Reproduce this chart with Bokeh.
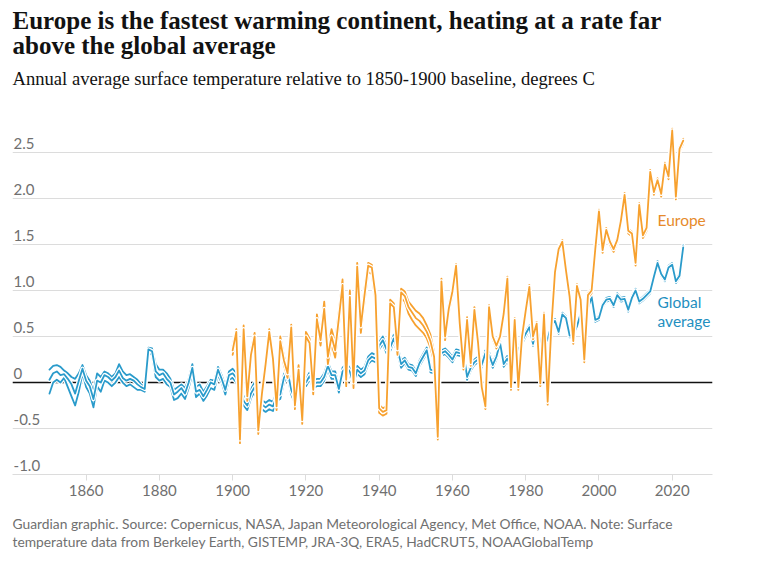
from bokeh.plotting import figure
from bokeh.models import FixedTicker, Label, Title
from bokeh.core.properties import value
from bokeh.embed import file_html
from bokeh.resources import INLINE

# ---------------- data ----------------
years_global = list(range(1850, 2024))
years_europe = list(range(1900, 2024))

global_a = [
    0.03, 0.10, 0.12, 0.08, 0.09, 0.04, -0.02, -0.12, 0.02, 0.15,
    0.02, -0.04, -0.18, 0.02, 0.00, 0.08, 0.06, 0.02, 0.06, 0.13,
    0.05, 0.02, 0.04, 0.02, -0.02, -0.05, -0.07, 0.36, 0.34, 0.12,
    0.08, 0.10, 0.04, 0.00, -0.13, -0.10, -0.06, -0.12, 0.00, 0.16,
    -0.10, -0.08, -0.15, -0.08, 0.00, -0.02, 0.14, 0.04, -0.08, 0.08,
    0.10, 0.05, -0.08, -0.20, -0.25, -0.12, -0.05, -0.20, -0.24, -0.27,
    -0.24, -0.26, -0.15, -0.13, 0.05, 0.12, -0.08, -0.18, -0.06, -0.02,
    0.00, 0.07, -0.02, 0.00, 0.00, 0.06, 0.18, 0.08, 0.08, -0.07,
    0.12, 0.17, 0.12, -0.02, 0.14, 0.10, 0.13, 0.24, 0.28, 0.26,
    0.40, 0.46, 0.36, 0.38, 0.48, 0.36, 0.20, 0.24, 0.17, 0.16,
    0.10, 0.21, 0.28, 0.35, 0.14, 0.13, 0.08, 0.32, 0.34, 0.30,
    0.25, 0.33, 0.32, 0.33, 0.06, 0.16, 0.22, 0.25, 0.19, 0.32,
    0.30, 0.19, 0.28, 0.43, 0.20, 0.26, 0.17, 0.45, 0.35, 0.45,
    0.53, 0.60, 0.42, 0.60, 0.44, 0.40, 0.47, 0.62, 0.67, 0.55,
    0.74, 0.70, 0.51, 0.52, 0.61, 0.75, 0.63, 0.81, 0.93, 0.68,
    0.70, 0.84, 0.90, 0.91, 0.84, 0.95, 0.90, 0.91, 0.79, 0.92,
    1.00, 0.88, 0.91, 0.95, 0.99, 1.15, 1.30, 1.18, 1.12, 1.25,
    1.28, 1.10, 1.16, 1.47,
]
global_b = [
    0.14, 0.18, 0.19, 0.17, 0.13, 0.10, 0.06, 0.04, 0.10, 0.19,
    0.08, 0.02, -0.10, 0.10, 0.06, 0.12, 0.10, 0.06, 0.10, 0.20,
    0.12, 0.08, 0.09, 0.06, 0.03, -0.02, -0.05, 0.38, 0.37, 0.20,
    0.14, 0.14, 0.10, 0.04, -0.08, -0.05, -0.02, -0.06, 0.04, 0.20,
    -0.05, -0.02, -0.10, -0.04, 0.03, 0.02, 0.17, 0.08, -0.04, 0.12,
    0.15, 0.10, -0.03, -0.15, -0.20, -0.07, 0.00, -0.15, -0.19, -0.22,
    -0.19, -0.21, -0.10, -0.08, 0.09, 0.16, -0.03, -0.13, -0.02, 0.02,
    0.04, 0.11, 0.02, 0.04, 0.04, 0.10, 0.22, 0.12, 0.12, -0.03,
    0.16, 0.21, 0.16, 0.02, 0.18, 0.14, 0.17, 0.28, 0.32, 0.30,
    0.44, 0.50, 0.40, 0.42, 0.52, 0.40, 0.24, 0.27, 0.20, 0.19,
    0.13, 0.24, 0.31, 0.38, 0.17, 0.16, 0.11, 0.35, 0.37, 0.33,
    0.28, 0.36, 0.35, 0.36, 0.09, 0.19, 0.25, 0.28, 0.22, 0.35,
    0.33, 0.22, 0.31, 0.46, 0.23, 0.29, 0.20, 0.48, 0.38, 0.48,
    0.56, 0.62, 0.45, 0.62, 0.46, 0.42, 0.49, 0.64, 0.69, 0.57,
    0.76, 0.72, 0.53, 0.54, 0.63, 0.77, 0.65, 0.83, 0.95, 0.70,
    0.72, 0.86, 0.92, 0.93, 0.86, 0.97, 0.92, 0.93, 0.81, 0.94,
    1.02, 0.90, 0.93, 0.97, 1.01, 1.17, 1.32, 1.20, 1.14, 1.27,
    1.30, 1.12, 1.18, 1.49,
]
global_c = [
    -0.12, 0.00, 0.03, 0.00, 0.05, -0.05, -0.15, -0.25, -0.10, 0.10,
    -0.05, -0.12, -0.27, -0.04, -0.10, 0.02, 0.00, -0.04, 0.00, 0.06,
    0.00, -0.04, -0.02, -0.05, -0.08, -0.08, -0.10, 0.33, 0.30, 0.06,
    0.02, 0.04, -0.02, -0.05, -0.19, -0.17, -0.12, -0.18, -0.06, 0.10,
    -0.16, -0.12, -0.20, -0.14, -0.06, -0.08, 0.08, 0.00, -0.13, 0.03,
    0.05, 0.00, -0.13, -0.25, -0.30, -0.17, -0.10, -0.25, -0.29, -0.32,
    -0.29, -0.31, -0.20, -0.18, 0.00, 0.07, -0.13, -0.23, -0.10, -0.06,
    -0.04, 0.03, -0.06, -0.04, -0.04, 0.02, 0.14, 0.04, 0.04, -0.11,
    0.08, 0.13, 0.08, -0.06, 0.10, 0.06, 0.09, 0.20, 0.24, 0.22,
    0.36, 0.42, 0.32, 0.34, 0.44, 0.32, 0.16, 0.21, 0.14, 0.13,
    0.07, 0.18, 0.25, 0.32, 0.11, 0.10, 0.05, 0.29, 0.31, 0.27,
    0.22, 0.30, 0.29, 0.30, 0.03, 0.13, 0.19, 0.22, 0.16, 0.29,
    0.27, 0.16, 0.25, 0.40, 0.17, 0.23, 0.14, 0.42, 0.32, 0.42,
    0.50, 0.58, 0.40, 0.58, 0.42, 0.38, 0.45, 0.60, 0.65, 0.53,
    0.72, 0.68, 0.49, 0.50, 0.59, 0.73, 0.61, 0.79, 0.91, 0.66,
    0.68, 0.82, 0.88, 0.89, 0.82, 0.93, 0.88, 0.89, 0.77, 0.90,
    0.98, 0.86, 0.89, 0.93, 0.97, 1.13, 1.28, 1.16, 1.10, 1.23,
    1.26, 1.08, 1.14, 1.45,
]

europe_a = [
    0.35, 0.55, -0.62, 0.58, -0.15, 0.30, 0.50, -0.52, -0.12, 0.20,
    0.55, 0.26, -0.26, 0.45, 0.24, 0.10, 0.60, -0.25, 0.14, -0.41,
    0.50, 0.43, -0.08, 0.69, 0.46, 0.80, 0.28, 0.50, 0.35, 0.70,
    1.06, 0.03, 0.93, 0.00, 1.26, 0.61, 0.95, 1.27, 1.25, 0.95,
    -0.28, -0.32, -0.30, 0.86, 0.82, 0.36, 0.98, 0.94, 0.82, 0.76,
    0.70, 0.67, 0.62, 0.55, 0.45, 0.28, -0.59, 1.10, 0.50, 0.80,
    0.99, 1.27, 0.64, 0.17, 0.68, 0.21, 0.79, 0.43, -0.05, -0.26,
    0.82, 0.50, 0.40, 0.50, 0.75, 1.13, -0.05, 0.68, -0.05, 0.50,
    0.78, 1.04, 0.50, 0.64, -0.01, 0.74, -0.21, 0.60, 1.20, 1.45,
    1.53, 1.22, 0.93, 0.45, 1.05, 0.90, 0.25, 0.95, 1.00, 1.45,
    1.86, 1.44, 1.66, 1.53, 1.45, 1.55, 1.76, 2.04, 1.65, 1.62,
    1.30, 1.93, 1.60, 1.68, 2.29, 2.07, 2.20, 2.05, 2.37, 2.24,
    2.74, 2.02, 2.54, 2.63,
]
europe_b = [
    0.40, 0.58, -0.58, 0.62, -0.08, 0.35, 0.54, -0.46, -0.06, 0.25,
    0.58, 0.30, -0.20, 0.50, 0.29, 0.15, 0.63, -0.20, 0.19, -0.36,
    0.55, 0.48, -0.02, 0.74, 0.52, 0.88, 0.36, 0.58, 0.44, 0.78,
    1.12, 0.10, 1.00, 0.06, 1.30, 0.68, 1.02, 1.30, 1.28, 1.00,
    -0.24, -0.28, -0.26, 0.90, 0.86, 0.42, 1.02, 0.99, 0.88, 0.83,
    0.78, 0.75, 0.70, 0.62, 0.52, 0.33, -0.56, 1.13, 0.54, 0.84,
    1.02, 1.29, 0.67, 0.20, 0.71, 0.24, 0.82, 0.46, -0.02, -0.23,
    0.84, 0.52, 0.42, 0.52, 0.77, 1.15, -0.03, 0.70, -0.03, 0.52,
    0.80, 1.06, 0.52, 0.66, 0.01, 0.76, -0.19, 0.62, 1.22, 1.47,
    1.55, 1.24, 0.95, 0.47, 1.07, 0.92, 0.27, 0.97, 1.02, 1.47,
    1.88, 1.46, 1.68, 1.55, 1.47, 1.57, 1.78, 2.06, 1.67, 1.64,
    1.32, 1.95, 1.62, 1.70, 2.31, 2.09, 2.22, 2.07, 2.39, 2.26,
    2.76, 2.04, 2.56, 2.65,
]
europe_c = [
    0.30, 0.50, -0.66, 0.54, -0.20, 0.26, 0.45, -0.56, -0.16, 0.15,
    0.50, 0.21, -0.30, 0.40, 0.19, 0.05, 0.56, -0.29, 0.09, -0.45,
    0.45, 0.38, -0.13, 0.64, 0.40, 0.72, 0.20, 0.42, 0.27, 0.62,
    0.99, -0.04, 0.86, -0.06, 1.20, 0.54, 0.88, 1.20, 1.18, 0.88,
    -0.33, -0.36, -0.34, 0.80, 0.77, 0.30, 0.92, 0.88, 0.75, 0.68,
    0.62, 0.58, 0.54, 0.48, 0.38, 0.22, -0.62, 1.06, 0.46, 0.76,
    0.95, 1.23, 0.60, 0.14, 0.65, 0.18, 0.76, 0.40, -0.08, -0.29,
    0.79, 0.47, 0.37, 0.47, 0.72, 1.10, -0.08, 0.65, -0.08, 0.47,
    0.75, 1.01, 0.47, 0.61, -0.04, 0.71, -0.24, 0.57, 1.17, 1.42,
    1.50, 1.19, 0.90, 0.42, 1.02, 0.87, 0.22, 0.92, 0.97, 1.42,
    1.83, 1.41, 1.63, 1.50, 1.42, 1.52, 1.73, 2.01, 1.62, 1.59,
    1.27, 1.90, 1.57, 1.65, 2.26, 2.04, 2.17, 2.02, 2.34, 2.21,
    2.71, 1.99, 2.51, 2.60,
]

y_ticks = [-1.0, -0.5, 0.0, 0.5, 1.0, 1.5, 2.0, 2.5]
y_tick_labels = ["-1.0", "-0.5", "0", "0.5", "1.0", "1.5", "2.0", "2.5"]
x_ticks = [1860, 1880, 1900, 1920, 1940, 1960, 1980, 2000, 2020]

title_text = ("Europe is the fastest warming continent, heating at a rate far\n"
              "above the global average")
subtitle = "Annual average surface temperature relative to 1850-1900 baseline, degrees C"
footer_text = ("Guardian graphic. Source: Copernicus, NASA, Japan Meteorological Agency, "
               "Met Office, NOAA. Note: Surface\n"
               "temperature data from Berkeley Earth, GISTEMP, JRA-3Q, ERA5, HadCRUT5, "
               "NOAAGlobalTemp")

# ---------------- style ----------------
ORANGE = "#f7a12f"
BLUE = "#2a9bcb"
ORANGE_TXT = "#e68a2a"
BLUE_TXT = "#1f8fc0"
GRID = "#dcdcdc"
TICK_TXT = "#707070"
SANS = "Lato"
SERIF = "Liberation Serif"

X0, X1 = 1839.9, 2031.0
p = figure(width=750, height=564, x_range=(X0, X1), y_range=(-1.0, 2.957),
           output_backend="svg", toolbar_location=None, y_axis_location=None,
           min_border_left=12, min_border_right=38, min_border_top=110,
           min_border_bottom=90)
p.outline_line_color = None
p.background_fill_color = "white"
p.border_fill_color = "white"

# main title = figure title (outermost); subtitle stacked just above the frame
p.title.text = title_text
p.title.align = "left"
p.title.text_font = SERIF
p.title.text_font_size = "25px"
p.title.text_font_style = "bold"
p.title.text_color = "#121212"
p.title.text_line_height = 0.94
p.title.standoff = -32
p.add_layout(Title(text=subtitle, align="left", text_font=SERIF,
                   text_font_size="18.6px", text_font_style="normal",
                   text_color="#121212", standoff=44), "above")

p.xgrid.visible = False
p.ygrid.ticker = FixedTicker(ticks=y_ticks)
p.ygrid.grid_line_color = GRID
p.ygrid.grid_line_width = 1

p.xaxis.ticker = FixedTicker(ticks=x_ticks)
p.xaxis.axis_line_color = GRID
p.xaxis.major_tick_line_color = GRID
p.xaxis.major_tick_out = 6
p.xaxis.major_tick_in = 0
p.xaxis.minor_tick_line_color = None
p.xaxis.major_label_text_font = SANS
p.xaxis.major_label_text_font_size = "15px"
p.xaxis.major_label_text_color = TICK_TXT
p.xaxis.major_label_standoff = 4

p.add_layout(Title(text=footer_text, align="left", text_font=SANS,
                   text_font_size="13.8px", text_font_style="normal",
                   text_color="#707070", text_line_height=1.087, standoff=29), "below")

# zero line
p.hspan(y=[0], line_color="#121212", line_width=1.5)

# y tick labels drawn just above their grid lines
p.text(x=[X0 + 0.3] * len(y_ticks), y=y_ticks, text=y_tick_labels,
       text_font=value(SANS), text_font_size="15px", text_color=TICK_TXT,
       text_baseline="middle", text_align="left", y_offset=-9)

def series(xs, ys, color):
    p.line(xs, ys, line_color="white", line_width=4.2, line_join="round", line_cap="round")
    p.line(xs, ys, line_color=color, line_width=1.8, line_join="round", line_cap="round")

for ys in (global_c, global_b, global_a):
    series(years_global, ys, BLUE)
for ys in (europe_c, europe_b, europe_a):
    series(years_europe, ys, ORANGE)

# series labels
p.add_layout(Label(x=2016.0, y=1.77, text="Europe", text_color=ORANGE_TXT,
                   text_font=SANS, text_font_size="15.5px", text_baseline="middle"))
p.add_layout(Label(x=2016.0, y=0.875, text="Global", text_color=BLUE_TXT,
                   text_font=SANS, text_font_size="15.5px", text_baseline="middle"))
p.add_layout(Label(x=2016.0, y=0.668, text="average", text_color=BLUE_TXT,
                   text_font=SANS, text_font_size="15.5px", text_baseline="middle"))

open("out.html", "w").write(file_html(p, INLINE))
